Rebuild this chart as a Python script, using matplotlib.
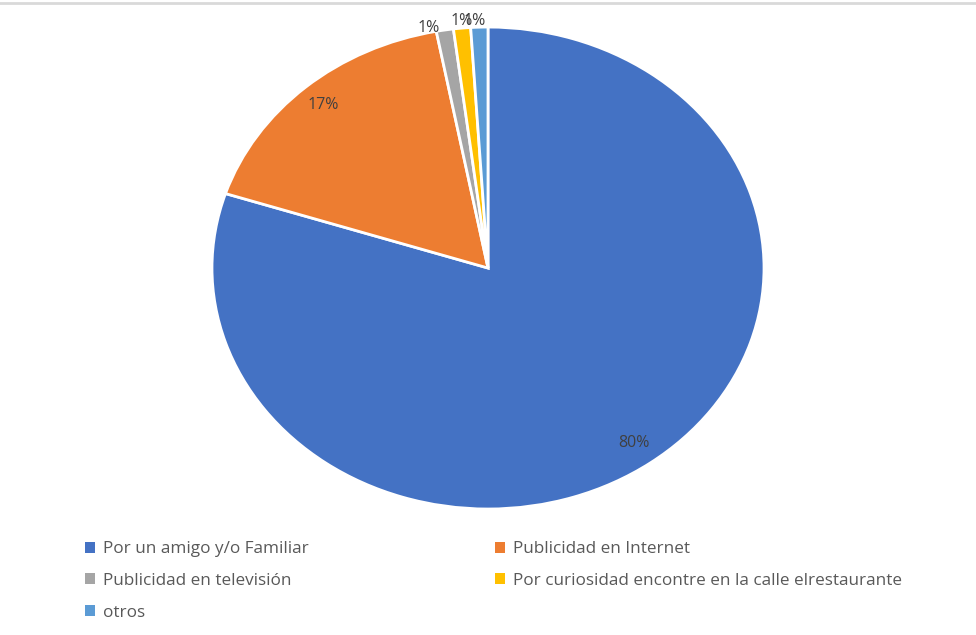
import matplotlib.pyplot as plt
from matplotlib.patches import Patch
from matplotlib.lines import Line2D

categories = ["Por un amigo y/o Familiar", "Publicidad en Internet",
              "Publicidad en televisión",
              "Por curiosidad encontre en la calle elrestaurante", "otros"]
values = [80, 17, 1, 1, 1]
colors = ["#4472C4", "#ED7D31", "#A5A5A5", "#FFC000", "#5B9BD5"]

plt.rcParams['font.family'] = ['Open Sans', 'DejaVu Sans']

fig = plt.figure(figsize=(9.76, 6.35), dpi=100)
ax = fig.add_axes([0.2172, 0.1984, 0.5656, 0.759])

wedges, texts, pcts = ax.pie(values, colors=colors, startangle=90, counterclock=False,
                             autopct='%1.0f%%', pctdistance=0.9,
                             wedgeprops=dict(edgecolor='white', linewidth=2),
                             textprops=dict(color='#404040', fontsize=11.5))
ax.set_aspect('auto')
ax.set_xlim(-1, 1)
ax.set_ylim(-1, 1)

# small slices: labels sit just outside the rim, as in the original
small_pos = [(-0.215, 0.996), (-0.095, 1.025), (-0.05, 1.025)]
for t, p in zip(pcts[2:], small_pos):
    t.set_position(p)

# legend reads row by row (Excel style), matplotlib fills columns first
order = [0, 2, 4, 1, 3]
handles = [Patch(facecolor=colors[i], edgecolor='none') for i in order]
labels = [categories[i] for i in order]
leg = fig.legend(handles, labels, ncol=2, loc='upper left',
                 bbox_to_anchor=(0.071, 0.172), frameon=False,
                 fontsize=12.3, labelcolor='#595959',
                 handlelength=0.6, handleheight=0.6, handletextpad=0.45,
                 columnspacing=10.9, labelspacing=0.92)

# thin gray line at the top edge
fig.add_artist(Line2D([0, 1], [0.995, 0.995], color='#D9D9D9', lw=2,
                      transform=fig.transFigure))

fig.savefig('out.png', dpi=100)
